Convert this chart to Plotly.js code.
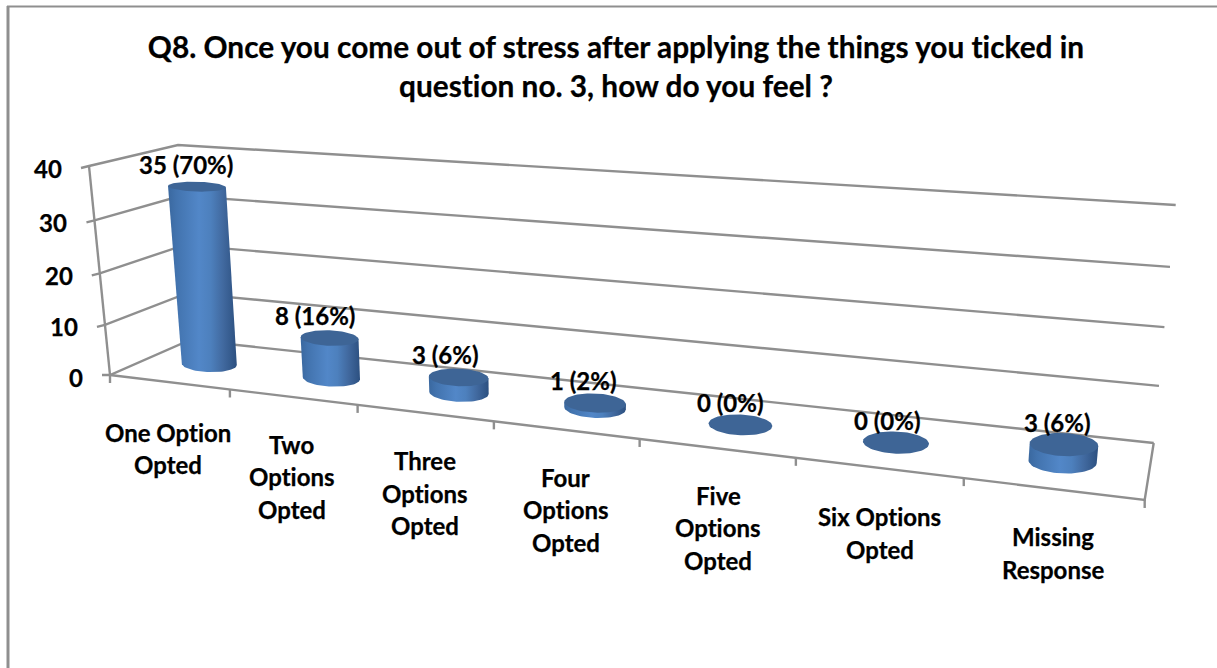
<!DOCTYPE html>
<html><head><meta charset="utf-8">
<script src="https://cdn.plot.ly/plotly-3.0.1.min.js"></script>
<style>html,body{margin:0;padding:0;background:#fff}#c{width:1217px;height:668px}
svg text{font-variant-ligatures:none;font-feature-settings:"liga" 0;stroke:#000;stroke-width:.25px}</style>
</head><body><div id="c"></div>
<script>
// ---- chart data ----
const titleLines = ["Q8. Once you come out of stress after applying the things you ticked in", "question no. 3, how do you feel ?"];
const categories = ["One Option<br>Opted", "Two<br>Options<br>Opted", "Three<br>Options<br>Opted", "Four<br>Options<br>Opted", "Five<br>Options<br>Opted", "Six Options<br>Opted", "Missing<br>Response"];
const counts = [35, 8, 3, 1, 0, 0, 3];
const percents = [70, 16, 6, 2, 0, 0, 6];
const yTicks = [0, 10, 20, 30, 40];

// ---- oblique 3-D projection of the chart box: (category, depth, value) -> page plane ----
const FONT = 'Lato, "Open Sans", sans-serif';
const VMAX = 40, N = categories.length;
const box = {
  f0l:[110,375], f0r:[1145,500], b0l:[190,340], b0r:[1154,443],
  f1l:[89,166],  f1r:[1167,254], b1l:[178,145], b1r:[1176,205]
};
const labelNudge = [[-1.5,50],[-1,47],[0,47.5],[0,47],[2,47],[1.5,49],[0.5,48]];
const lerp = (a,b,t)=>[a[0]+(b[0]-a[0])*t, a[1]+(b[1]-a[1])*t];
const warpU = u => { const x=(112.9*u+110)/(1-0.0305*u); return (x-110)/1035; };
const warpV = v => { const w=v/VMAX; return w/(1+0.055*(1-w)); };
function project(u,d,v){
  const t=warpU(u), f=warpV(v);
  const front=lerp(lerp(box.f0l,box.f0r,t),lerp(box.f1l,box.f1r,t),f);
  const back =lerp(lerp(box.b0l,box.b0r,t),lerp(box.b1l,box.b1r,t),f);
  return lerp(front,back,d);
}
const traces=[];
function line(pts,width){
  traces.push({type:'scatter',mode:'lines',x:pts.map(p=>p[0]),y:pts.map(p=>p[1]),
    line:{color:'#8f8f8f',width:width||2.4},hoverinfo:'skip',showlegend:false});
}
// walls, floor and ticks
yTicks.forEach(v=>{
  const a=project(0,0,v), b=project(0,1,v), c=project(N,1,v);
  line([[a[0]-8,a[1]+(v===0?0:2)],a,b,c]);
});
line([project(0,0,0),project(0,0,VMAX)]);
line([project(0,0,0),project(N,0,0),project(N,1,0)]);
for(let i=0;i<=N;i++){ const p=project(i,0,0); line([p,[p[0],p[1]+8]]); }

// cylinders
const bodyScale=[[0,'#3a689f'],[0.12,'#4273ae'],[0.45,'#5287c8'],[0.62,'#4d80bd'],[0.8,'#41699f'],[1,'#2c5080']];
function ellipse(c,rx,ry,s,from,to,n){
  const out=[];
  for(let k=0;k<=n;k++){const th=from+(to-from)*k/n;
    out.push([c[0]+rx*Math.cos(th), c[1]+ry*Math.sin(th)+s*rx*Math.cos(th)]);}
  return out;
}
function radii(i,v,c){
  const rx=(27.5+1.1*i)*(1+0.0015*v);
  return {rx, ry:rx*(0.17+(c[1]-187)*0.00065)};
}
const texts=[];
counts.forEach((v,i)=>{
  const u=i+0.52+0.02*Math.min(i,1)-0.00012*i*i*i, d=0.5;
  const base=project(u,d,0), top=project(u,d,v);
  const a=project(u-0.1,d,v), b=project(u+0.1,d,v), s=0.35*(b[1]-a[1])/(b[0]-a[0]);
  const rb=radii(i,0,base), rt=radii(i,v,top);
  if(v>0){
    const o=[...ellipse(base,rb.rx,rb.ry,s,0,Math.PI,36),
             ...ellipse(top,rt.rx,0,s,Math.PI,0,1)];
    o.push(o[0]);
    traces.push({type:'scatter',mode:'lines',x:o.map(p=>p[0]),y:o.map(p=>p[1]),fill:'toself',
      fillgradient:{type:'horizontal',colorscale:bodyScale},line:{width:0,color:'#4f81bd'},
      hoverinfo:'skip',showlegend:false});
  }
  const cap=ellipse(top,rt.rx,rt.ry,s,0,2*Math.PI,72);
  traces.push({type:'scatter',mode:'lines',x:cap.map(p=>p[0]),y:cap.map(p=>p[1]),fill:'toself',
    fillcolor:'#3e6596',line:{width:0,color:'#3e6596'},hoverinfo:'skip',showlegend:false});
  texts.push({x:top[0]+(i===0?-11:-16.5+1.7*i),y:top[1]-22.5,text:`${v} (${percents[i]}%)`});
});
const ann=[];
const note=(x,y,text,size,xanchor)=>ann.push({x,y,xref:'x',yref:'y',text,showarrow:false,xanchor:xanchor||'center',yanchor:'middle',
  font:{family:FONT,size,color:'#000',weight:700}});
texts.forEach(t=>note(t.x,t.y,t.text,24));
yTicks.forEach(v=>{const p=project(0,0,v); note(p[0]-25,p[1]+2,String(v),24,'right');});
categories.forEach((c,i)=>{
  const p=project(i+0.5,0,0), n=labelNudge[i];
  c.split('<br>').forEach((l,k)=>note(p[0]+n[0],p[1]+n[1]+k*32.5,l,24));
});

const layout={
  width:1217,height:668,margin:{l:0,r:0,t:0,b:0,pad:0},paper_bgcolor:'#fff',plot_bgcolor:'#fff',
  xaxis:{range:[0,1217],visible:false,fixedrange:true},
  yaxis:{range:[668,0],visible:false,fixedrange:true},
  showlegend:false,annotations:ann,
  title:{text:titleLines.join('<br>'),x:616/1217,xanchor:'center',xref:'paper',y:1-58/668,yanchor:'top',yref:'paper',
    font:{family:FONT,size:29.8,color:'#000',weight:700}},
  shapes:[
    {type:'line',xref:'x',yref:'y',x0:8,x1:8,y0:6,y1:668,line:{color:'#8f8f8f',width:3}},
    {type:'line',xref:'x',yref:'y',x0:7,x1:1217,y0:6.5,y1:6.5,line:{color:'#8f8f8f',width:2}}
  ]
};
Plotly.newPlot('c',traces,layout,{displayModeBar:false,staticPlot:true});
</script></body></html>
